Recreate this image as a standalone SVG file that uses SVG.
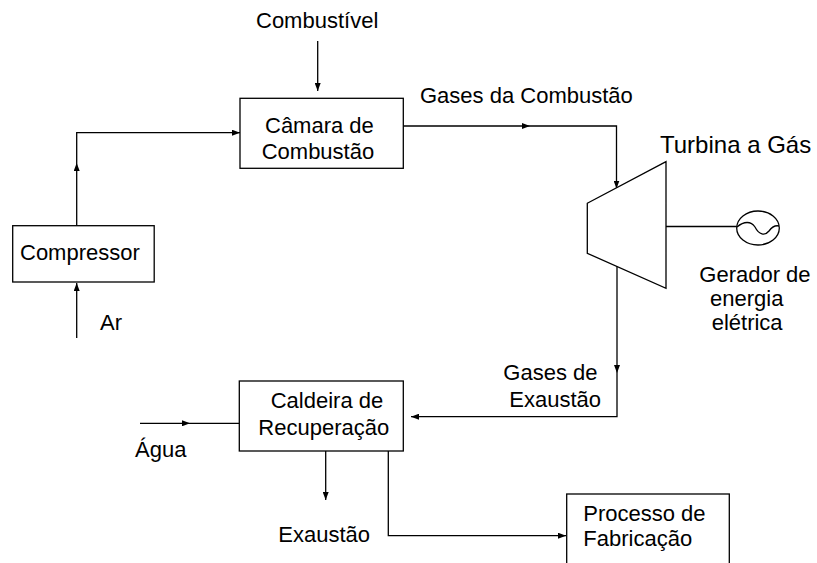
<svg xmlns="http://www.w3.org/2000/svg" width="817" height="563" viewBox="0 0 817 563">
<style>
  .box { fill: #ffffff; stroke: #000000; stroke-width: 1.3; }
  .ln { fill: none; stroke: #000000; stroke-width: 1.3; }
  .arr { fill: none; stroke: #000000; stroke-width: 1.3; marker-end: url(#ah); }
  text { font-family: "Liberation Sans", Arial, sans-serif; font-size: 22px; fill: #000000; }
  .big { font-size: 24px; }
</style>
<defs>
  <marker id="ah" markerWidth="8" markerHeight="6" refX="8" refY="3" orient="auto" markerUnits="userSpaceOnUse">
    <path d="M0,0 L8,3 L0,6 Z" fill="#000000"/>
  </marker>
</defs>
<rect width="817" height="563" fill="#ffffff"/>

<g id="connectors">
  <line class="arr" x1="76.7" y1="338" x2="76.7" y2="283"/>
  <line class="arr" x1="76.7" y1="225.7" x2="76.7" y2="163"/>
  <polyline class="arr" points="76.7,163 76.7,132.7 240,132.7"/>
  <line class="arr" x1="317.7" y1="41" x2="317.7" y2="91"/>
  <line class="arr" x1="403" y1="126" x2="530" y2="126"/>
  <polyline class="arr" points="530,126 616.5,126 616.5,188.5"/>
  <line class="ln" x1="666" y1="226.5" x2="737" y2="226.5"/>
  <line class="arr" x1="617" y1="266" x2="617" y2="373"/>
  <polyline class="arr" points="617,373 617,416.7 411,416.7"/>
  <line class="arr" x1="140" y1="423.3" x2="190" y2="423.3"/>
  <line class="ln" x1="190" y1="423.3" x2="239.3" y2="423.3"/>
  <line class="arr" x1="325.7" y1="451" x2="325.7" y2="500"/>
  <polyline class="arr" points="388.3,451 388.3,535.7 566,535.7"/>
</g>

<g id="compressor">
  <rect class="box" x="12.7" y="225.7" width="141.5" height="56.3"/>
  <text x="20" y="260">Compressor</text>
</g>

<g id="ar-label">
  <text x="100" y="330">Ar</text>
</g>

<g id="combustivel-label">
  <text x="256" y="28">Combustível</text>
</g>

<g id="camara">
  <rect class="box" x="240" y="98.3" width="163.3" height="70"/>
  <text x="265" y="133">Câmara de</text>
  <text x="261.7" y="159">Combustão</text>
</g>

<g id="gases-combustao-label">
  <text x="420" y="103">Gases da Combustão</text>
</g>

<g id="turbina">
  <polygon class="box" points="587.3,203.3 666,161.7 666,288.3 587.3,253.3"/>
  <text class="big" x="660" y="153">Turbina a Gás</text>
</g>

<g id="gerador">
  <ellipse class="box" cx="758" cy="228" rx="21.3" ry="17"/>
  <path class="ln" d="M737,227 C744,221 751,221 755,227 C759,235 765,236 769,231 C772,227 775,225 779,226"/>
  <text x="699.3" y="282">Gerador de</text>
  <text x="710" y="306">energia</text>
  <text x="711.7" y="330">elétrica</text>
</g>

<g id="gases-exaustao-label">
  <text x="503.3" y="380">Gases de</text>
  <text x="509.3" y="406.7">Exaustão</text>
</g>

<g id="caldeira">
  <rect class="box" x="239.3" y="381" width="164" height="70"/>
  <text x="270.7" y="408.3">Caldeira de</text>
  <text x="258.3" y="435">Recuperação</text>
</g>

<g id="agua-label">
  <text x="135" y="456.7">Água</text>
</g>

<g id="exaustao-label">
  <text x="278.3" y="541.7">Exaustão</text>
</g>

<g id="processo">
  <rect class="box" x="566.7" y="494" width="162.6" height="90"/>
  <text x="583.3" y="521">Processo de</text>
  <text x="583.3" y="546">Fabricação</text>
</g>
</svg>
